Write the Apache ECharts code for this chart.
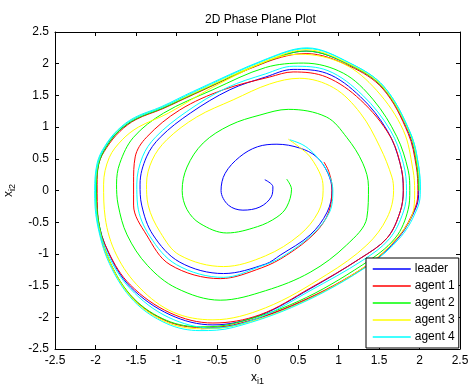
<!DOCTYPE html>
<html>
<head>
<meta charset="utf-8" />
<title>2D Phase Plane Plot</title>
<style>
  html, body { margin: 0; padding: 0; background: #fff; }
  #chart { width: 468px; height: 385px; }
</style>
</head>
<body>
<div id="chart"></div>
<script src="https://cdn.jsdelivr.net/npm/echarts@6/dist/echarts.min.js"></script>
<script>
// axis ticks
var xTicks = [-2.5, -2, -1.5, -1, -0.5, 0, 0.5, 1, 1.5, 2, 2.5];
var yTicks = [-2.5, -2, -1.5, -1, -0.5, 0, 0.5, 1, 1.5, 2, 2.5];
var seriesNames = ['leader', 'agent 1', 'agent 2', 'agent 3', 'agent 4'];
var seriesColors = ['#0000ff', '#ff0000', '#00ff00', '#ffff00', '#00ffff'];

// trajectories [x_i1, x_i2]
var leader = [
  [0.09,0.17],[0.19,0.06],[0.17,-0.1],[0.03,-0.26],[-0.18,-0.31],[-0.36,-0.23],[-0.45,0],
  [-0.4,0.27],[-0.22,0.53],[0,0.69],[0.24,0.73],[0.52,0.67],[0.73,0.53],[0.87,0.27],[0.92,0],
  [0.86,-0.34],[0.65,-0.7],[0.28,-1.02],[0.1,-1.16],[-0.42,-1.31],[-0.96,-1.13],[-1.29,-0.7],
  [-1.43,-0.23],[-1.45,0.1],[-1.37,0.53],[-1.2,0.84],[-0.83,1.22],[-0.34,1.59],[0.1,1.79],
  [0.44,1.91],[0.85,1.85],[1.27,1.48],[1.6,0.95],[1.76,0.43],[1.8,0],
  [1.76,-0.34],[1.6,-0.75],[1.27,-1.07],[0.65,-1.55],[0.03,-1.97],[-0.55,-2.12],[-1.08,-1.96],
  [-1.57,-1.52],[-1.84,-0.98],[-1.97,-0.43],[-1.99,0.09],[-1.96,0.43],[-1.87,0.69],
  [-1.71,0.94],[-1.5,1.13],[-1.17,1.3],[-0.78,1.53],[0.12,2.04],[0.6,2.2],[1.14,1.98],
  [1.55,1.62],[1.87,0.9],[1.97,0.38],[1.99,0],
  [1.96,-0.26],[1.75,-0.73],[1.34,-1.2],[0.52,-1.77],[-0.3,-2.13],[-0.7,-2.18]
];
var agent1 = [
  [0.82,0.45],[0.88,0.3],[0.92,0.05],[0.88,-0.34],[0.71,-0.67],[0.36,-1.02],[0.05,-1.22],
  [-0.46,-1.39],[-1.08,-1.17],[-1.37,-0.7],[-1.53,-0.23],[-1.53,0.12],[-1.51,0.53],[-1.37,0.84],
  [-0.96,1.27],[-0.42,1.59],[0.15,1.79],[0.44,1.87],[0.85,1.79],[1.27,1.43],[1.64,0.85],
  [1.78,0.32],[1.8,0],[1.76,-0.34],[1.6,-0.75],[1.27,-1.07],[0.65,-1.54],[0.03,-1.96],
  [-0.55,-2.09],[-1.08,-1.93],[-1.57,-1.49],[-1.84,-0.97],[-1.97,-0.43],[-1.98,0.09],
  [-1.96,0.42],[-1.86,0.68],[-1.7,0.93],[-1.5,1.12],[-1.17,1.29],[-0.78,1.52],[0.12,2.03],
  [0.6,2.16],[1.14,1.96],[1.55,1.6],[1.86,0.9],[1.96,0.38],[1.98,0],[1.95,-0.26],
  [1.74,-0.73],[1.33,-1.2],[0.52,-1.76],[-0.3,-2.12],[-0.7,-2.16],[-1.12,-2.06],
  [-1.53,-1.71],[-1.82,-1.14],[-1.97,-0.5],[-1.99,0]
];
var agent2 = [
  [0.36,0.18],[0.42,0.02],[0.36,-0.26],[0.24,-0.42],[0,-0.57],[-0.38,-0.67],[-0.71,-0.52],
  [-0.87,-0.3],[-0.93,0],[-0.87,0.37],[-0.67,0.75],[-0.34,1.03],[0.03,1.19],[0.38,1.28],
  [0.85,1.16],[1.1,0.84],[1.3,0.43],[1.37,0.06],[1.35,-0.43],[1.1,-0.86],[0.65,-1.29],
  [0.1,-1.58],[-0.46,-1.73],[-1,-1.54],[-1.36,-1.18],[-1.61,-0.7],[-1.72,-0.23],[-1.74,0.1],
  [-1.7,0.43],[-1.53,0.84],[-1.16,1.22],[-0.55,1.59],[0.1,1.94],[0.57,2.01],[1.06,1.85],
  [1.43,1.43],[1.72,0.85],[1.86,0.32],[1.88,0],[1.86,-0.3],[1.7,-0.75],[1.3,-1.17],
  [0.5,-1.75],[-0.3,-2.1],[-0.7,-2.15],[-1.12,-2.05],[-1.53,-1.7],[-1.82,-1.13],
  [-1.96,-0.5],[-1.99,0],[-1.96,0.42],[-1.87,0.68],[-1.71,0.94],[-1.5,1.13],[-1.17,1.3],
  [-0.78,1.53],[0.12,2.04],[0.6,2.2],[1.14,1.98],[1.55,1.62],[1.88,0.9],[1.97,0.38],[1.99,0]
];
var agent3 = [
  [0.38,0.81],[0.52,0.68],[0.65,0.53],[0.79,0.21],[0.81,0],[0.75,-0.34],[0.52,-0.7],
  [0.1,-1.03],[-0.42,-1.2],[-0.96,-1.02],[-1.2,-0.66],[-1.35,-0.23],[-1.37,0.1],[-1.3,0.48],
  [-1.12,0.8],[-0.75,1.16],[-0.3,1.43],[0.15,1.68],[0.52,1.77],[0.94,1.62],[1.27,1.22],
  [1.51,0.69],[1.66,0.21],[1.68,0],[1.6,-0.43],[1.35,-0.86],[0.85,-1.33],[0.1,-1.85],
  [-0.55,-2.04],[-1.04,-1.92],[-1.45,-1.54],[-1.74,-1.02],[-1.88,-0.43],[-1.9,0.1],
  [-1.83,0.52],[-1.67,0.8],[-1.47,1.0],[-1.1,1.22],[-0.55,1.63],[0.15,2.06],[0.52,2.15],
  [1.06,2.0],[1.47,1.58],[1.8,0.95],[1.92,0.32],[1.94,0],[1.93,-0.28],[1.73,-0.74],
  [1.33,-1.2],[0.52,-1.78],[-0.3,-2.14],[-0.7,-2.18],[-1.12,-2.08],[-1.53,-1.72],
  [-1.82,-1.14],[-1.97,-0.5],[-2.0,0],[-1.97,0.43],[-1.88,0.69],[-1.72,0.95],[-1.51,1.14],
  [-1.18,1.31],[-0.78,1.54],[0.12,2.05],[0.6,2.22],[1.14,1.99],[1.55,1.63],[1.88,0.9],
  [1.98,0.38],[2.0,0]
];
var agent4 = [
  [0.4,0.8],[0.56,0.72],[0.69,0.59],[0.85,0.33],[0.93,0],[0.89,-0.34],[0.68,-0.69],
  [0.3,-1.05],[0.03,-1.2],[-0.42,-1.37],[-1.0,-1.17],[-1.33,-0.72],[-1.48,-0.23],[-1.49,0.1],
  [-1.42,0.53],[-1.26,0.84],[-0.88,1.24],[-0.38,1.62],[0.1,1.84],[0.44,1.96],[0.87,1.89],
  [1.3,1.5],[1.64,0.95],[1.8,0.43],[1.84,0],[1.8,-0.34],[1.63,-0.76],[1.3,-1.1],[0.65,-1.58],
  [0.03,-2.0],[-0.55,-2.17],[-1.1,-2.0],[-1.57,-1.55],[-1.85,-1.0],[-1.98,-0.45],[-2.0,0.09],
  [-1.97,0.43],[-1.88,0.69],[-1.72,0.95],[-1.51,1.14],[-1.18,1.31],[-0.79,1.55],
  [0.12,2.07],[0.61,2.24],[1.14,2.01],[1.56,1.64],[1.89,0.9],[1.99,0.38],[2.01,0],
  [1.98,-0.26],[1.77,-0.73],[1.35,-1.2],[0.52,-1.79],[-0.3,-2.16],[-0.71,-2.21],
  [-1.12,-2.1],[-1.53,-1.74],[-1.83,-1.15],[-1.98,-0.51],[-2.01,0],[-1.98,0.43],
  [-1.89,0.69],[-1.73,0.95],[-1.52,1.15],[-1.19,1.32],[-0.8,1.56],[0.12,2.08],
  [0.61,2.25],[1.14,2.01],[1.56,1.64],[1.89,0.9],[1.99,0.38],[2.01,0]
];

var _font = 'Liberation Sans, Arial, Helvetica, sans-serif';
var trajectories = [leader, agent1, agent2, agent3, agent4];

var myChart = echarts.init(document.getElementById('chart'));

// both x axes / both y axes draw the box with inward ticks
function makeAxis(pos, ticks, showLabel) {
  return {
    type: 'value',
    position: pos,
    min: ticks[0],
    max: ticks[ticks.length - 1],
    interval: ticks[1] - ticks[0],
    axisLine: { show: true, onZero: false, lineStyle: { color: '#000', width: 1 } },
    axisTick: { show: true, inside: true, length: 4, lineStyle: { color: '#000' } },
    axisLabel: { show: showLabel, color: '#000', fontSize: 12, fontFamily: _font, margin: 6 },
    splitLine: { show: false }
  };
}

var nameRich = {
  a: { fontSize: 12, fontFamily: _font, color: '#000' },
  b: { fontSize: 9, fontFamily: _font, color: '#000', padding: [8, 0, 0, 0] }
};
var xBottom = makeAxis('bottom', xTicks, true);
xBottom.name = '{a|x}{b|i1}';
xBottom.nameLocation = 'middle';
xBottom.nameGap = 20;
xBottom.nameTextStyle = { rich: nameRich };
var yLeft = makeAxis('left', yTicks, true);
yLeft.name = '{a|x}{b|i2}';
yLeft.nameLocation = 'middle';
yLeft.nameGap = 36;
yLeft.nameRotate = 90;
yLeft.nameTextStyle = { rich: nameRich };

var series = [];
for (var i = 0; i < trajectories.length; i++) {
  series.push({
    name: seriesNames[i],
    type: 'line',
    data: trajectories[i],
    smooth: 0.35,
    symbol: 'none',
    lineStyle: { color: seriesColors[i], width: 1 },
    itemStyle: { color: seriesColors[i] },
    animation: false
  });
}

var option = {
  backgroundColor: '#fff',
  animation: false,
  title: {
    text: '2D Phase Plane Plot',
    left: 200,
    top: 9,
    textStyle: { fontSize: 12, fontWeight: 'normal', color: '#000', fontFamily: _font }
  },
  grid: { left: 55, right: 8, top: 32, bottom: 36, containLabel: false, outerBoundsMode: 'none' },
  legend: {
    data: seriesNames,
    orient: 'vertical',
    left: 366,
    top: 258,
    padding: [5, 4, 5, 6],
    itemGap: 5,
    itemWidth: 38,
    itemHeight: 12,
    itemStyle: { opacity: 0 },
    lineStyle: { width: 1.5 },
    backgroundColor: '#fff',
    borderColor: '#000',
    borderWidth: 1,
    borderRadius: 0,
    textStyle: { fontSize: 12, color: '#000', fontFamily: _font, padding: [0, 0, 0, -1] }
  },
  xAxis: [xBottom, makeAxis('top', xTicks, false)],
  yAxis: [yLeft, makeAxis('right', yTicks, false)],
  series: series
};
myChart.setOption(option);
</script>
</body>
</html>
